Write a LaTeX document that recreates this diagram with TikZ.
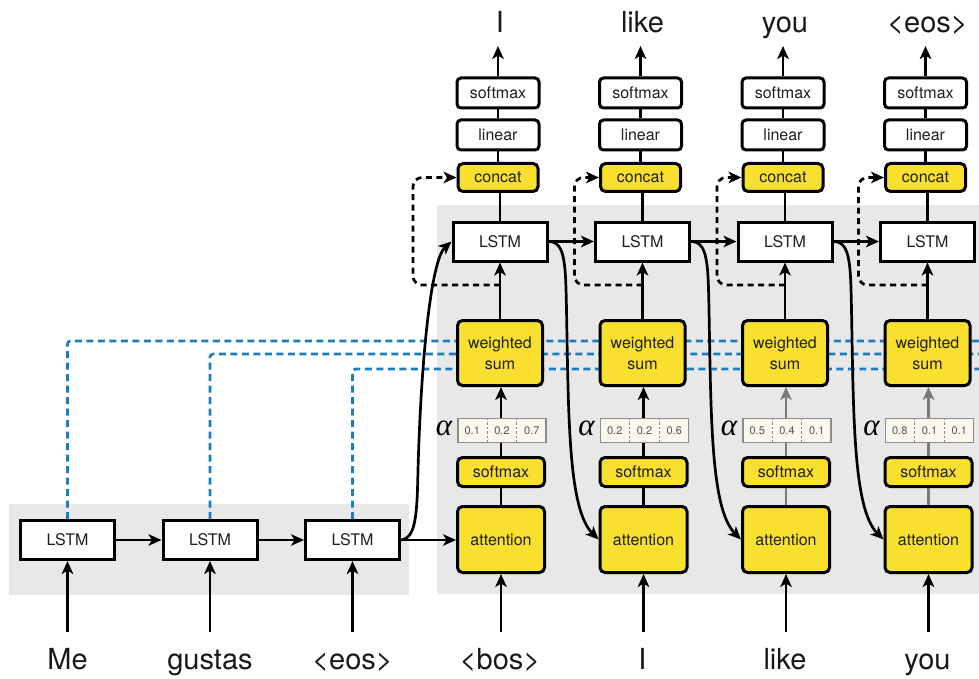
\documentclass[tikz,border=0pt]{standalone}
\usepackage{fontspec}
\setmainfont{TeX Gyre Heros}
\newfontfamily\greekital{Liberation Serif}
\usetikzlibrary{arrows.meta,calc,shadows}

\definecolor{boxyellow}{HTML}{F9E02E}
\definecolor{bggray}{HTML}{E8E8E8}
\definecolor{encblue}{HTML}{1A7DC0}
\definecolor{cellfill}{HTML}{FAF8EC}
\definecolor{cellline}{HTML}{8C8C8C}
\definecolor{flowgray}{HTML}{7A7A7A}
\definecolor{labelgray}{HTML}{555555}

\begin{document}
\begin{tikzpicture}[x=1pt,y=-1pt,
  boxbase/.style={draw=black, line width=3pt, text=black!88, inner sep=0pt,
    align=center, font=\fontsize{16}{21}\selectfont,
    drop shadow={shadow xshift=1.2pt, shadow yshift=-1.2pt, opacity=.18}},
  whitebox/.style={boxbase, fill=white, rounded corners=4pt,
    minimum width=82pt, minimum height=30pt},
  lstmbox/.style={boxbase, fill=white, minimum width=94pt, minimum height=39pt},
  yelbox/.style={boxbase, fill=boxyellow, rounded corners=5pt},
  weightcells/.style={draw=cellline, fill=cellfill, line width=1.3pt,
    minimum width=88pt, minimum height=24pt, inner sep=0pt},
  weightnum/.style={font=\fontsize{11}{11}\selectfont, text=labelgray, inner sep=0pt},
  tokenword/.style={font=\fontsize{29}{32}\selectfont, text=black!90, anchor=base, inner sep=0pt},
  alphasym/.style={font=\greekital\itshape\fontsize{31}{31}\selectfont, inner sep=0pt},
  flowline/.style={line width=2.7pt},
  arr/.style={line width=2.7pt, -{Stealth[length=13pt,width=11.5pt,inset=3.5pt]}},
  bluedash/.style={draw=encblue, line width=2.6pt, dash pattern=on 7pt off 4.5pt,
    rounded corners=3pt},
  fbdash/.style={line width=2.7pt, dash pattern=on 6pt off 4.5pt, rounded corners=9pt,
    -{Stealth[length=13pt,width=11.5pt,inset=3.5pt]}}
]
\useasboundingbox (0,0) rectangle (979,679);

% shaded panels behind encoder and decoder
\fill[bggray] (9,504) rectangle (409,595);
\fill[bggray] (437,205) rectangle (979,594);

% encoder
\foreach \i/\x/\w/\h in {1/67.5/Me/341, 2/210/gustas/354, 3/352.5/{<eos>}/369} {
  \node[lstmbox] (e\i) at (\x,540) {LSTM};
  \node[tokenword] (ew\i) at (\x,669) {\w};
  \coordinate (eb\i) at (\x,632);
  \draw[arr] (eb\i) -- (e\i.south);
  \coordinate (bl\i) at (979,\h);
  \draw[bluedash] (e\i.north) |- (bl\i);
}
\draw[arr] (e1) -- (e2);
\draw[arr] (e2) -- (e3);

% decoder columns
\foreach \i/\x/\o/\n/\a/\b/\c/\fc/\d in {
    1/500/I/{<bos>}/0.1/0.2/0.7/black/87,
    2/642.5/like/I/0.2/0.2/0.6/black/68,
    3/785/you/like/0.5/0.4/0.1/flowgray/68,
    4/927.5/{<eos>}/you/0.8/0.1/0.1/flowgray/69} {
  \node[whitebox] (os\i) at (\x-2,93) {softmax};
  \node[whitebox] (li\i) at (\x-2,135) {linear};
  \node[yelbox, minimum width=80pt, minimum height=28pt] (cc\i) at (\x-2,177.5) {concat};
  \node[lstmbox] (L\i) at (\x,241.5) {LSTM};
  \node[yelbox, minimum width=85pt, minimum height=65pt] (ws\i) at (\x,353) {weighted\\sum};
  \node[weightcells] (al\i) at (\x+2,430.5) {};
  \node[yelbox, minimum width=87pt, minimum height=29pt] (sm\i) at (\x+1,472) {softmax};
  \node[yelbox, minimum width=87pt, minimum height=66pt] (at\i) at (\x+1,539.5) {attention};
  \node[alphasym] (alpha\i) at (\x-56,428) {α};
  \node[tokenword] (ow\i) at (\x,33) {\o};
  \node[tokenword] (iw\i) at (\x,669) {\n};
  % attention weights
  \draw[cellline, line width=1pt, dash pattern=on 2.5pt off 2pt]
    ($(al\i.north west)!1/3!(al\i.north east)$) -- ($(al\i.south west)!1/3!(al\i.south east)$);
  \draw[cellline, line width=1pt, dash pattern=on 2.5pt off 2pt]
    ($(al\i.north west)!2/3!(al\i.north east)$) -- ($(al\i.south west)!2/3!(al\i.south east)$);
  \node[weightnum] at ($(al\i.west)!1/6!(al\i.east)$) {\a};
  \node[weightnum] at ($(al\i.west)!1/2!(al\i.east)$) {\b};
  \node[weightnum] at ($(al\i.west)!5/6!(al\i.east)$) {\c};
  % vertical flow
  \coordinate (ot\i) at (\x-2,46);
  \coordinate (ib\i) at (\x+1,632);
  \draw[arr] (ib\i) -- (at\i.south);
  \draw[flowline, \fc] (at\i.north) -- (sm\i.south);
  \draw[flowline, \fc] (sm\i.north) -- (sm\i.north |- al\i.south);
  \draw[arr, \fc] (sm\i.north |- al\i.north) -- (sm\i.north |- ws\i.south);
  \draw[arr] (ws\i.north) -- (L\i.south);
  \draw[flowline] (L\i.north) -- (L\i.north |- cc\i.south);
  \draw[flowline] (cc\i.north) -- (li\i.south);
  \draw[flowline] (li\i.north) -- (os\i.south);
  \draw[arr] (os\i.north) -- (ot\i);
  % context fed back to concat
  \coordinate (fbs\i) at (\x,285);
  \coordinate (fbc\i) at (\x-\d,177.5);
  \draw[fbdash] (fbs\i) -| (fbc\i) -- (cc\i.west);
}

% recurrent links between decoder steps
\foreach \i/\j in {1/2, 2/3, 3/4} {
  \draw[arr] (L\i.east) -- (L\j.west);
  \draw[arr] (L\i.east) .. controls ($(L\i.east)+(17,0)$) and ($(L\i.east)+(17,23)$)
    .. ($(L\i.east)+(18,68)$) .. controls ($(L\i.east)+(20,178)$) and ($(L\i.east)+(20,268)$)
    .. (at\j.west);
}

% encoder to decoder
\draw[arr] (e3.east) -- (e3.east -| at1.west);
\draw[arr] (e3.east) .. controls ($(e3.east)+(15,-2)$) and ($(e3.east)+(16,-25)$)
  .. ($(e3.east)+(17,-70)$) .. controls ($(e3.east)+(20,-180)$) and ($(e3.east)+(30,-280)$)
  .. (L1.west);
\end{tikzpicture}
\end{document}
